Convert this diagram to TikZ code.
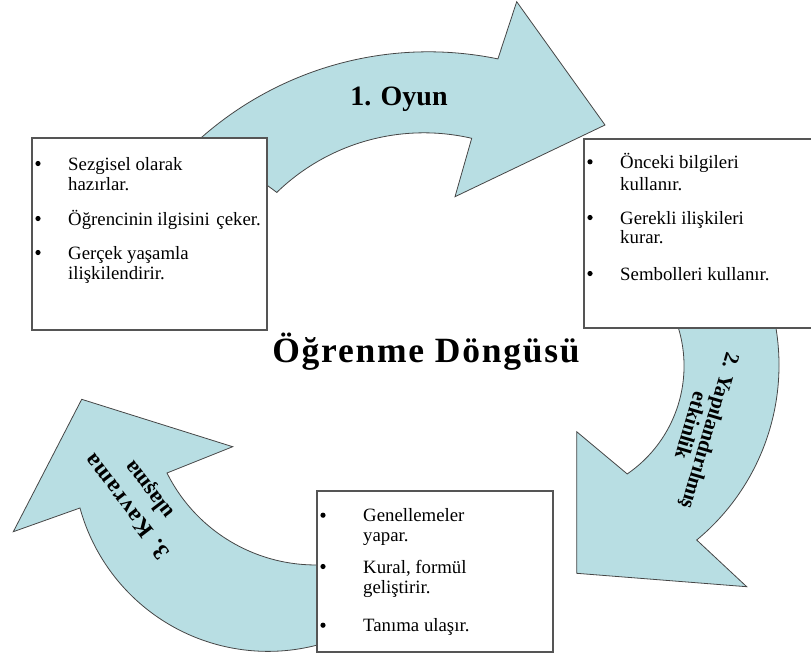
\documentclass[tikz,border=0pt]{standalone}
\usepackage{fontspec}
\setmainfont{Liberation Serif}
\newfontfamily\titleserif[LetterSpace=5]{Liberation Serif}
\newfontfamily\labelserif[LetterSpace=4]{Liberation Serif}
\definecolor{arrowfill}{RGB}{184,222,227}
\definecolor{edgegray}{RGB}{70,70,70}
\definecolor{boxgray}{RGB}{85,85,85}
\begin{document}
\begin{tikzpicture}[x=1pt,y=-1pt,
  cyc/.style={fill=arrowfill, draw=edgegray, line width=0.8pt, line join=miter},
  infobox/.style={fill=white, draw=boxgray, line width=1.4pt},
  itemtxt/.style={anchor=base west, inner sep=0pt, font=\fontsize{18.8}{20}\selectfont},
  bul/.style={circle, fill=black, inner sep=0pt, minimum size=5.2pt},
  arrlab/.style={inner sep=0pt, align=center},
]
\useasboundingbox (0,0) rectangle (811,657);
\clip (0,0) rectangle (811,657);

% ---- cycle arrows ----
\draw[cyc] (516.7,1.7) -- (605,125) -- (455,196.7) -- (471.7,138.3)
  arc[start angle=-76.93, end angle=-134.1, radius=211.4] -- (202,137)
  arc[start angle=-131.24, end angle=-78.33, radius=343.5] -- cycle;

\draw[cyc] (576.7,431.7) -- (576.7,573.3) -- (746.7,586.7) -- (696.7,540)
  arc[start angle=50.4, end angle=-11.7, radius=227] -- (675.7,320)
  arc[start angle=-20.55, end angle=55.5, radius=131] -- cycle;

\draw[cyc] (81.7,399.3) -- (232.7,446.7) -- (167,473)
  arc[start angle=153.5, end angle=80, radius=166] -- (334.7,639.6)
  arc[start angle=70, end angle=164.65, radius=195] -- (13.3,531.7) -- cycle;

% ---- boxes ----
\draw[infobox] (32,138) rectangle (267,330);
\draw[infobox] (584,139) rectangle (830,328);
\draw[infobox] (317,491) rectangle (553,652);

% ---- arrow labels ----
\node[inner sep=0pt, anchor=base, font=\bfseries\fontsize{28}{28}\selectfont] (lab1) at (399,105) {1. Oyun};
\node[arrlab, font=\bfseries\fontsize{21}{19}\selectfont, rotate=-106.5] (lab2) at (701,428.5) {2. Yapılandırılmış\\etkinlik};
\node[arrlab, font=\bfseries\fontsize{22}{27}\selectfont, rotate=127.5] (lab3) at (139,497.5) {{\labelserif\bfseries\fontsize{23}{27}\selectfont 3. Kavrama}\\ulaşma};

% ---- title ----
\node[inner sep=0pt, anchor=base, font=\titleserif\bfseries\fontsize{35.5}{35.5}\selectfont] (title) at (426,362) {Öğrenme Döngüsü};

% ---- box 1 ----
\node[bul] (b1a) at (38,163.5) {};
\node[bul] (b1b) at (38,218.5) {};
\node[bul] (b1c) at (38,252.5) {};
\node[itemtxt] (t1a) at (68,170) {Sezgisel olarak};
\node[itemtxt] (t1b) at (68,190.7) {hazırlar.};
\node[itemtxt] (t1c) at (68,225) {Öğrencinin ilgisini\hspace{2pt} çeker.};
\node[itemtxt] (t1d) at (68,259) {Gerçek yaşamla};
\node[itemtxt] (t1e) at (68,279) {ilişkilendirir.};

% ---- box 2 ----
\node[bul] (b2a) at (590,161.8) {};
\node[bul] (b2b) at (590,217.5) {};
\node[bul] (b2c) at (590,273.5) {};
\node[itemtxt] (t2a) at (620,168.3) {Önceki bilgileri};
\node[itemtxt] (t2b) at (620,190) {kullanır.};
\node[itemtxt] (t2c) at (620,224) {Gerekli ilişkileri};
\node[itemtxt] (t2d) at (620,243.3) {kurar.};
\node[itemtxt] (t2e) at (620,280) {Sembolleri kullanır.};

% ---- box 3 ----
\node[bul] (b3a) at (323,515.2) {};
\node[bul] (b3b) at (323,566.5) {};
\node[bul] (b3c) at (323,625.2) {};
\node[itemtxt] (t3a) at (363,521.7) {Genellemeler};
\node[itemtxt] (t3b) at (363,541.7) {yapar.};
\node[itemtxt] (t3c) at (363,573) {Kural, formül};
\node[itemtxt] (t3d) at (363,593) {geliştirir.};
\node[itemtxt] (t3e) at (363,631.7) {Tanıma ulaşır.};
\end{tikzpicture}
\end{document}
